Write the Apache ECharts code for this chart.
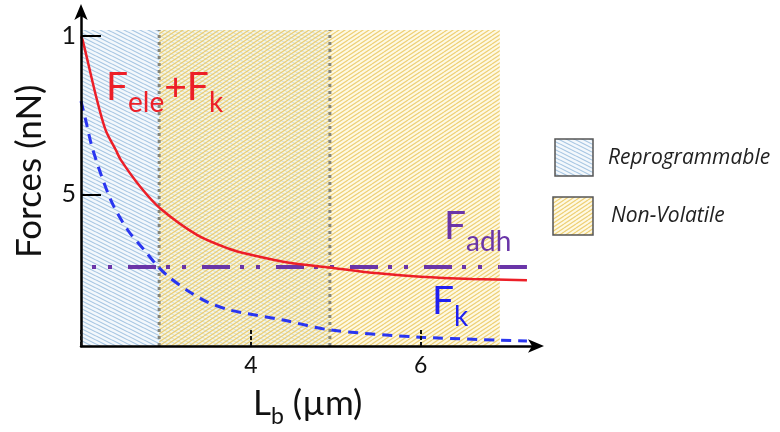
<!DOCTYPE html>
<html>
<head>
<meta charset="utf-8">
<script src="https://cdn.jsdelivr.net/npm/echarts@6/dist/echarts.min.js"></script>
<style>html,body{margin:0;padding:0;background:#fff}#c{width:780px;height:432px}</style>
</head>
<body>
<div id="c"></div>
<script>
// ---- data ----
var xTickValues = [2, 4, 6];
var xTickLabels = ['', '4', '6'];
var yTickValues = [5, 10];
var yTickLabels = ['5', '1'];

// F_ele + F_k (red solid)
var felePlusFk = [[2.0,10.0],[2.02,9.87],[2.18,8.07],[2.29,7.03],[2.41,6.40],[2.47,6.08],[2.70,5.23],[2.93,4.56],[3.37,3.71],[3.75,3.27],[3.95,3.12],[4.4,2.86],[4.93,2.68],[5.5,2.50],[6.0,2.39],[6.6,2.32],[7.25,2.28]];
// F_k (blue dashed)
var fk = [[2.0,7.95],[2.06,7.29],[2.14,6.40],[2.35,4.82],[2.55,3.87],[2.75,3.22],[2.91,2.70],[3.05,2.35],[3.28,1.91],[3.49,1.59],[3.75,1.34],[4.38,1.02],[4.93,0.71],[5.99,0.48],[7.25,0.36]];
// F_adh (purple dash-dot, solid tail)
var fadh = 2.70;
var fadhDashX = [2.0, 6.93];
var fadhSolidX = [6.93, 7.25];
// regions
var reprogrammable = [2.0, 4.93];
var nonVolatile = [2.92, 6.93];
var regionTop = 10.2;
var boundaries = [2.92, 4.93];

var X_MIN = 2, X_MAX = 7.38, Y_MIN = 0.2, Y_MAX = 10.83;

function hatch(lineColor, bg, w, h, rising, lw) {
  var c = document.createElement('canvas');
  c.width = w; c.height = h;
  var g = c.getContext('2d');
  g.fillStyle = bg; g.fillRect(0, 0, w, h);
  g.strokeStyle = lineColor; g.lineWidth = lw;
  for (var k = -4; k <= 4; k++) {
    g.beginPath();
    if (rising) { g.moveTo(0, 4 * k); g.lineTo(w, 4 * k - h); }
    else { g.moveTo(0, 4 * k); g.lineTo(w, 4 * k + h); }
    g.stroke();
  }
  return c;
}
var bluePat = {image: hatch('rgba(140,180,218,0.75)', 'rgba(232,241,250,0.5)', 16, 8, false, 1.1), repeat: 'repeat'};
var yellowPat = {image: hatch('rgba(236,200,95,0.85)', 'rgba(252,244,208,0.55)', 12, 8, true, 1.2), repeat: 'repeat'};

var chart = echarts.init(document.getElementById('c'), null, {renderer: 'canvas'});
var FONT = 'Lato';

var option = {
  animation: false,
  grid: {left: 81, right: 242, top: 10, bottom: 86, containLabel: false},
  xAxis: {
    type: 'value', min: X_MIN, max: X_MAX, z: 10,
    splitLine: {show: false},
    axisLine: {show: true, onZero: false, symbol: ['none', 'arrow'], symbolSize: [10, 16], symbolOffset: [0, 6], lineStyle: {color: '#000', width: 2.5}},
    axisTick: {show: true, inside: true, length: 16, customValues: xTickValues, lineStyle: {color: '#111', width: 2, type: [4, 2]}},
    axisLabel: {show: true, customValues: xTickValues, margin: 8, fontSize: 23, color: '#111', fontFamily: FONT,
      formatter: function (v) { var i = xTickValues.indexOf(v); return i >= 0 ? xTickLabels[i] : ''; }}
  },
  yAxis: {
    type: 'value', min: Y_MIN, max: Y_MAX, z: 10,
    splitLine: {show: false},
    axisLine: {show: true, onZero: false, symbol: ['none', 'arrow'], symbolSize: [10, 16], symbolOffset: [0, 6], lineStyle: {color: '#000', width: 2.5}},
    axisTick: {show: true, inside: true, length: 20, customValues: yTickValues, lineStyle: {color: '#000', width: 2}},
    axisLabel: {show: true, customValues: yTickValues, margin: 5, fontSize: 25, color: '#111', fontFamily: FONT, hideOverlap: false,
      formatter: function (v) { var i = yTickValues.indexOf(v); return i >= 0 ? yTickLabels[i] : ''; }}
  },
  series: [
    {
      type: 'line', data: [], silent: true, z: 1,
      markArea: {silent: true, data: [
        [{xAxis: reprogrammable[0], yAxis: Y_MIN, itemStyle: {color: bluePat}}, {xAxis: reprogrammable[1], yAxis: regionTop}],
        [{xAxis: nonVolatile[0], yAxis: Y_MIN, itemStyle: {color: yellowPat}}, {xAxis: nonVolatile[1], yAxis: regionTop}]
      ]}
    },
    {
      type: 'line', symbol: 'none', silent: true, z: 2,
      data: [[boundaries[0], Y_MIN], [boundaries[0], regionTop]],
      lineStyle: {color: '#85857a', width: 3, type: [3, 4]}
    },
    {
      type: 'line', symbol: 'none', silent: true, z: 2,
      data: [[boundaries[1], Y_MIN], [boundaries[1], regionTop]],
      lineStyle: {color: '#85857a', width: 3, type: [3, 4]}
    },
    {
      type: 'line', symbol: 'none', silent: true, z: 3,
      data: [[fadhDashX[0], fadh], [fadhDashX[1], fadh]],
      lineStyle: {color: '#6a35a8', width: 4, type: [28, 10, 4, 12, 4, 16], dashOffset: 27}
    },
    {
      type: 'line', symbol: 'none', silent: true, z: 3,
      data: [[fadhSolidX[0], fadh], [fadhSolidX[1], fadh]],
      lineStyle: {color: '#6a35a8', width: 4}
    },
    {
      type: 'line', symbol: 'none', silent: true, z: 4, smooth: 0.3,
      data: fk,
      lineStyle: {color: '#2a36f0', width: 3, type: [10, 7]}
    },
    {
      type: 'line', symbol: 'none', silent: true, z: 5, smooth: 0.3,
      data: felePlusFk,
      lineStyle: {color: '#ec1f28', width: 2.5}
    }
  ],
  graphic: [
    {type: 'text', x: 12, y: 258, rotation: Math.PI / 2, style: {text: 'Forces (nN)', font: '35px Lato', fill: '#111'}, z: 10},
    {type: 'text', x: 253, y: 386, style: {
      text: '{a|L}{s|b}{a| (µm)}',
      rich: {a: {fontSize: 35, fontFamily: FONT, fill: '#111', verticalAlign: 'bottom', padding: [0, 0, 7, 0]},
             s: {fontSize: 23, fontFamily: FONT, fill: '#111', verticalAlign: 'bottom'}}}, z: 10},
    {type: 'text', x: 106, y: 68, style: {
      text: '{a|F}{s|ele}{a|+F}{s|k}',
      rich: {a: {fontSize: 39, fontFamily: FONT, fill: '#ec1f28', verticalAlign: 'bottom', padding: [0, 0, 10, 0]},
             s: {fontSize: 28, fontFamily: FONT, fill: '#ec1f28', verticalAlign: 'bottom'}}}, z: 10},
    {type: 'text', x: 444, y: 207, style: {
      text: '{a|F}{s|adh}',
      rich: {a: {fontSize: 39, fontFamily: FONT, fill: '#6a35a8', verticalAlign: 'bottom', padding: [0, 0, 10, 0]},
             s: {fontSize: 28, fontFamily: FONT, fill: '#6a35a8', verticalAlign: 'bottom'}}}, z: 10},
    {type: 'text', x: 432, y: 282, style: {
      text: '{a|F}{s|k}',
      rich: {a: {fontSize: 39, fontFamily: FONT, fill: '#2020f0', verticalAlign: 'bottom', padding: [0, 0, 10, 0]},
             s: {fontSize: 28, fontFamily: FONT, fill: '#2020f0', verticalAlign: 'bottom'}}}, z: 10},
    {type: 'rect', shape: {x: 555, y: 139, width: 38, height: 37}, style: {fill: bluePat, stroke: '#555', lineWidth: 1.5}, z: 10},
    {type: 'text', x: 608, y: 158, style: {text: 'Reprogrammable', font: 'italic 21px "Open Sans"', fill: '#222', verticalAlign: 'middle'}, z: 10},
    {type: 'rect', shape: {x: 553, y: 197, width: 40, height: 38}, style: {fill: yellowPat, stroke: '#555', lineWidth: 1.5}, z: 10},
    {type: 'text', x: 611, y: 216, style: {text: 'Non-Volatile', font: 'italic 21px "Open Sans"', fill: '#222', verticalAlign: 'middle'}, z: 10}
  ]
};
chart.setOption(option);
</script>
</body>
</html>
